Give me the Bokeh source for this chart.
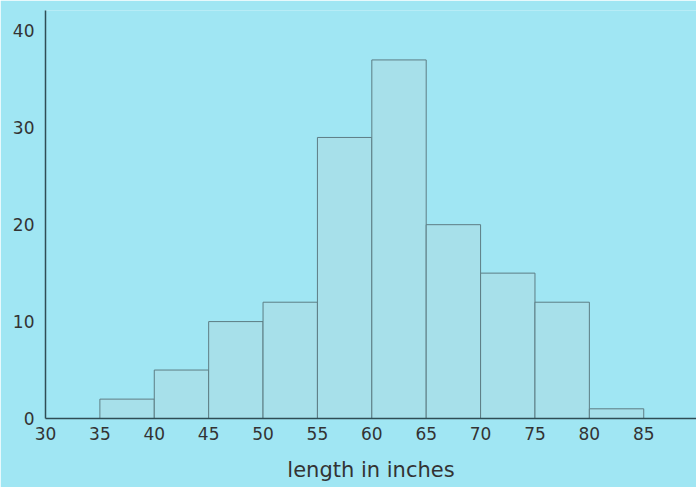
from bokeh.plotting import figure
from bokeh.embed import file_html
from bokeh.resources import INLINE
from bokeh.models import FixedTicker, ColumnDataSource

bin_left = [35, 40, 45, 50, 55, 60, 65, 70, 75, 80]
bin_right = [40, 45, 50, 55, 60, 65, 70, 75, 80, 85]
counts = [2, 5, 10, 12, 29, 37, 20, 15, 12, 1]
x_ticks = [30, 35, 40, 45, 50, 55, 60, 65, 70, 75, 80, 85]
y_ticks = [0, 10, 20, 30, 40]

BG = "#a0e6f3"
src = ColumnDataSource(dict(left=bin_left, right=bin_right, top=counts, bottom=[0] * len(counts)))

p = figure(width=696, height=487, output_backend="svg", toolbar_location=None,
           x_range=(30, 89.85), y_range=(0, 42.1),
           min_border_left=45, min_border_right=0, min_border_top=10, min_border_bottom=69)
p.background_fill_color = BG
p.border_fill_color = BG
p.outline_line_color = None
p.grid.grid_line_color = None

p.quad(left="left", right="right", top="top", bottom="bottom", source=src,
       fill_color="#a7e0ea", line_color="#5d7d84", line_width=1)

font = "DejaVu Sans"
for ax in (p.xaxis[0], p.yaxis[0]):
    ax.axis_line_color = "#2f4d55"
    ax.axis_line_width = 1.5
    ax.major_tick_out = 0
    ax.major_tick_in = 0
    ax.minor_tick_out = 0
    ax.minor_tick_in = 0
    ax.major_label_text_font = font
    ax.major_label_text_font_size = "17px"
    ax.major_label_text_color = "#333333"

p.xaxis.ticker = FixedTicker(ticks=x_ticks)
p.yaxis.ticker = FixedTicker(ticks=y_ticks)
p.xaxis.major_label_standoff = 8
p.yaxis.major_label_standoff = 11
p.xaxis.axis_label = "length in inches"
p.xaxis.axis_label_text_font = font
p.xaxis.axis_label_text_font_style = "normal"
p.xaxis.axis_label_text_font_size = "21px"
p.xaxis.axis_label_text_color = "#333333"
p.xaxis.axis_label_standoff = 15

open("out.html", "w").write(file_html(p, INLINE))
